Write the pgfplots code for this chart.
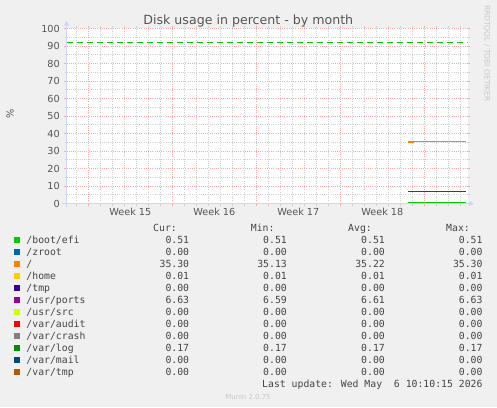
\documentclass[border=0pt]{standalone}
\usepackage{fontspec}
\setmainfont{DejaVu Sans}
\newfontfamily\legfont{DejaVu Sans Mono}
\usepackage{pgfplots}
\pgfplotsset{compat=1.18}
\usetikzlibrary{arrows.meta}

\definecolor{bgcol}{HTML}{F0F0F0}
\definecolor{axiscol}{HTML}{CFD6F8}
\definecolor{gridcol}{HTML}{D0D0D0}
\definecolor{mgridcol}{HTML}{F2ACAC}
\definecolor{fontcol}{HTML}{555555}
\definecolor{legcol}{HTML}{444444}
\definecolor{watercol}{HTML}{C8C8C8}
\definecolor{c1}{HTML}{00CC00}
\definecolor{c2}{HTML}{0066B3}
\definecolor{c3}{HTML}{FF8000}
\definecolor{c4}{HTML}{FFCC00}
\definecolor{c5}{HTML}{330099}
\definecolor{c6}{HTML}{990099}
\definecolor{c7}{HTML}{CCFF00}
\definecolor{c8}{HTML}{FF0000}
\definecolor{c9}{HTML}{808080}
\definecolor{c10}{HTML}{008F00}
\definecolor{c11}{HTML}{00487D}
\definecolor{c12}{HTML}{B35A00}

% one legend row: index, colour, name, cur, min, avg, max
\newcommand\legrow[7]{%
  \pgfmathsetmacro\yb{164-12*#1}
  \fill[#2] (14.3,\yb) rectangle ++(6,6);
  \node[anchor=base west] at (26.3,\yb) {#3};
  \node[anchor=base east] at (189.3,\yb) {#4};
  \node[anchor=base east] at (287,\yb) {#5};
  \node[anchor=base east] at (385,\yb) {#6};
  \node[anchor=base east] at (482.7,\yb) {#7};
}

\begin{document}
\begin{tikzpicture}[x=1bp,y=1bp]
\fill[bgcol] (0,0) rectangle (497,407);
\useasboundingbox (0,0) rectangle (497,407);

\begin{axis}[
    at={(66.5bp,203.5bp)}, anchor=south west,
    scale only axis, width=401bp, height=175bp,
    xmin=0, xmax=33.42, ymin=0, ymax=100,
    axis line style={draw=none},
    axis background/.style={fill=white},
    xtick={1.82,8.82,15.82,22.82,29.82},
    xticklabels={},
    minor xtick={0.82,1.82,...,32.82},
    ytick={0,10,...,100},
    minor ytick={5,15,...,95},
    grid=both,
    major grid style={mgridcol, line width=0.6bp, dash pattern=on 1bp off 1.2bp},
    minor grid style={gridcol, line width=0.6bp, dash pattern=on 1bp off 1.2bp},
    tick align=outside,
    major tick length=2.5bp, minor tick length=2bp,
    every major tick/.append style={mgridcol, line width=0.6bp},
    every minor tick/.append style={gridcol, line width=0.6bp},
    extra x ticks={5.32,12.32,19.32,26.32},
    extra x tick labels={Week 15,Week 16,Week 17,Week 18},
    extra x tick style={grid=none, major tick length=0pt},
    tick label style={font=\fontsize{9.7bp}{11bp}\selectfont, text=fontcol},
    /pgf/number format/assume math mode=true,
    yticklabel style={inner sep=0pt, xshift=-4bp},
    xticklabel style={inner sep=0pt, yshift=-4bp},
]
% zero-valued filesystems
\addplot[const plot, c2, line width=1.2bp] coordinates {(28.46,0) (33.29,0)};
\addplot[const plot, c5, line width=1.2bp] coordinates {(28.46,0) (33.29,0)};
\addplot[const plot, c7, line width=1.2bp] coordinates {(28.46,0) (33.29,0)};
\addplot[const plot, c8, line width=1.2bp] coordinates {(28.46,0) (33.29,0)};
\addplot[const plot, c9, line width=1.2bp] coordinates {(28.46,0) (33.29,0)};
\addplot[const plot, c11, line width=1.2bp] coordinates {(28.46,0) (33.29,0)};
\addplot[const plot, c12, line width=1.2bp] coordinates {(28.46,0) (33.29,0)};
% /home, /var/log
\addplot[const plot, c4, line width=1.2bp] coordinates {(28.46,0.01) (33.29,0.01)};
\addplot[const plot, c10, line width=1.2bp] coordinates {(28.46,0.17) (33.29,0.17)};
% /usr/ports
\addplot[const plot, c6, line width=1.2bp] coordinates {(28.46,6.63) (33.29,6.63)};
% /
\addplot[const plot, c3, line width=1.2bp] coordinates {(28.46,35.13) (28.93,35.30) (33.29,35.30)};
% /boot/efi
\addplot[const plot, c1, line width=1.3bp] coordinates {(28.46,0.51) (33.29,0.51)};
% warning level
\addplot[c1, line width=1.3bp, dash pattern=on 6bp off 4bp] coordinates {(0,92) (33.42,92)};
\end{axis}

% axes with arrows
\draw[axiscol, line width=1bp, -{Triangle[width=5bp,length=5bp]}] (62,203.5) -- (474,203.5);
\draw[axiscol, line width=1bp, -{Triangle[width=5bp,length=5bp]}] (66.5,200.3) -- (66.5,386.5);

\node[text=fontcol, anchor=base, inner sep=0pt, font=\fontsize{12.6bp}{14bp}\selectfont] at (248.3,383) {Disk usage in percent - by month};
\node[text=fontcol, rotate=90, inner sep=0pt, font=\fontsize{9.7bp}{11bp}\selectfont] at (10,293) {\%};
\node[text=watercol, rotate=-90, inner sep=0pt, font=\fontsize{7.5bp}{8bp}\selectfont] at (487,353.5) {RRDTOOL / TOBI OETIKER};

\begin{scope}[every node/.style={inner sep=0pt, text=legcol, font=\legfont\fontsize{9.8bp}{12bp}\selectfont}]
\node[anchor=base east] at (177,176) {Cur:};
\node[anchor=base east] at (274.7,176) {Min:};
\node[anchor=base east] at (372,176) {Avg:};
\node[anchor=base east] at (470,176) {Max:};
\legrow{0}{c1}{/boot/efi}{0.51}{0.51}{0.51}{0.51}
\legrow{1}{c2}{/zroot}{0.00}{0.00}{0.00}{0.00}
\legrow{2}{c3}{/}{35.30}{35.13}{35.22}{35.30}
\legrow{3}{c4}{/home}{0.01}{0.01}{0.01}{0.01}
\legrow{4}{c5}{/tmp}{0.00}{0.00}{0.00}{0.00}
\legrow{5}{c6}{/usr/ports}{6.63}{6.59}{6.61}{6.63}
\legrow{6}{c7}{/usr/src}{0.00}{0.00}{0.00}{0.00}
\legrow{7}{c8}{/var/audit}{0.00}{0.00}{0.00}{0.00}
\legrow{8}{c9}{/var/crash}{0.00}{0.00}{0.00}{0.00}
\legrow{9}{c10}{/var/log}{0.17}{0.17}{0.17}{0.17}
\legrow{10}{c11}{/var/mail}{0.00}{0.00}{0.00}{0.00}
\legrow{11}{c12}{/var/tmp}{0.00}{0.00}{0.00}{0.00}
\node[anchor=base east] at (482.7,20) {Last update: Wed May\ \ 6 10:10:15 2026};
\end{scope}
\node[text=watercol, anchor=base, inner sep=0pt, font=\fontsize{6.9bp}{8bp}\selectfont] at (248,7.5) {Munin 2.0.75};
\end{tikzpicture}
\end{document}
